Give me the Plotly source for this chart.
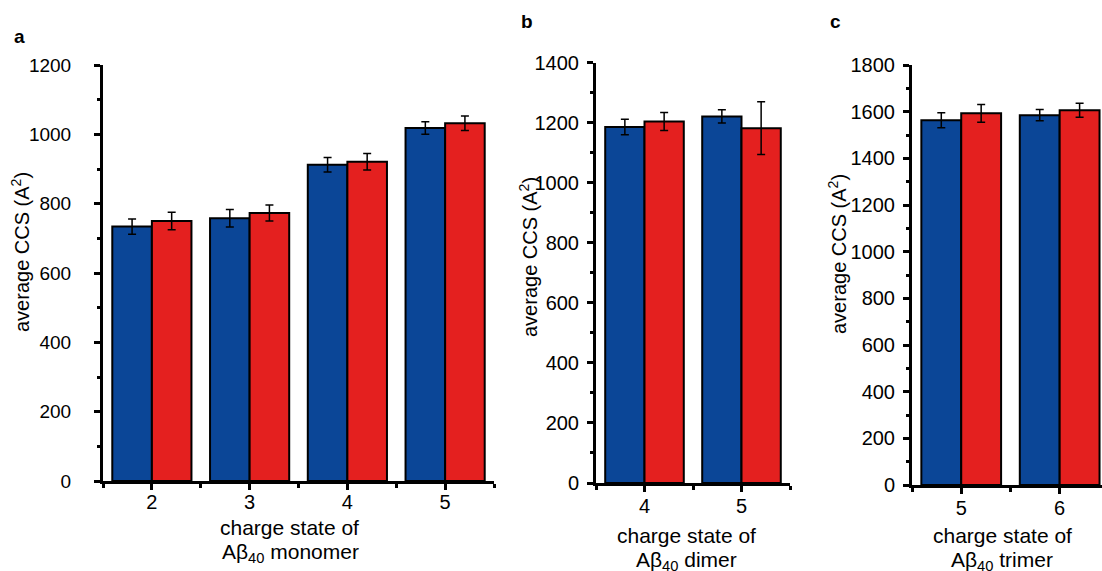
import plotly.graph_objects as go

# ---- data ----
cats_a = [2, 3, 4, 5]
blue_a = [734, 758, 912, 1018]
blue_a_err = [22, 25, 21, 18]
red_a = [750, 773, 921, 1032]
red_a_err = [25, 23, 24, 21]

cats_b = [4, 5]
blue_b = [1186, 1221]
blue_b_err = [26, 22]
red_b = [1204, 1182]
red_b_err = [30, 88]

cats_c = [5, 6]
blue_c = [1563, 1585]
blue_c_err = [32, 24]
red_c = [1593, 1606]
red_c_err = [38, 30]

BLUE = "#0b4697"
RED = "#e4201f"
FONT = "Arial, Liberation Sans, sans-serif"
W, H = 1102, 571

fig = go.Figure()

def add_pair(cats, bv, be, rv, re, xa, ya):
    for vals, errs, col in ((bv, be, BLUE), (rv, re, RED)):
        fig.add_trace(go.Bar(
            x=cats, y=vals, xaxis=xa, yaxis=ya,
            marker=dict(color=col, line=dict(color="black", width=2)),
            error_y=dict(type="data", array=errs, color="black", thickness=1.5, width=4),
            showlegend=False,
        ))

add_pair(cats_a, blue_a, blue_a_err, red_a, red_a_err, "x", "y")
add_pair(cats_b, blue_b, blue_b_err, red_b, red_b_err, "x2", "y2")
add_pair(cats_c, blue_c, blue_c_err, red_c, red_c_err, "x3", "y3")

def px_x(p):
    return p / W

def px_y(p):
    return (H - p) / H

def xaxis(dom, rng, tv, anchor, standoff):
    return dict(
        domain=[px_x(dom[0]), px_x(dom[1])], range=rng, anchor=anchor,
        tickvals=tv, ticktext=[str(v) for v in tv],
        showline=True, linecolor="black", linewidth=3,
        ticks="outside", ticklen=6, tickwidth=3, tickcolor="black",
        minor=dict(ticks="outside", tick0=0.5, dtick=1, ticklen=4, tickwidth=3, tickcolor="black"),
        showgrid=False, zeroline=False, automargin=False,
        tickfont=dict(family=FONT, size=20, color="black"),
        ticklabelstandoff=standoff, fixedrange=True,
    )

def yaxis(dom, rng, dt, anchor, standoff, fsize):
    return dict(
        domain=[px_y(dom[1]), px_y(dom[0])], range=rng, anchor=anchor,
        dtick=dt, showline=True, linecolor="black", linewidth=3,
        ticks="outside", ticklen=6, tickwidth=3, tickcolor="black",
        minor=dict(ticks="outside", dtick=dt / 2, ticklen=3, tickwidth=3, tickcolor="black"),
        showgrid=False, zeroline=False, automargin=False,
        tickfont=dict(family=FONT, size=fsize, color="black"),
        ticklabelstandoff=standoff, fixedrange=True,
    )

fig.update_layout(
    width=W, height=H,
    margin=dict(l=0, r=0, t=0, b=0, autoexpand=False),
    paper_bgcolor="white", plot_bgcolor="white",
    barmode="group", bargap=0.19, bargroupgap=0,
    font=dict(family=FONT, color="black"),
    xaxis=xaxis([103, 494], [1.5, 5.5], cats_a, "y", -5),
    yaxis=yaxis([65, 481], [0, 1200], 200, "x", 19, 19),
    xaxis2=xaxis([596, 790], [3.5, 5.5], cats_b, "y2", -3),
    yaxis2=yaxis([62.7, 483], [0, 1400], 200, "x2", 4, 20),
    xaxis3=xaxis([912, 1102], [4.5, 6.43], cats_c, "y3", -3),
    yaxis3=yaxis([65, 485], [0, 1800], 200, "x3", 4, 20),
)

def ann(text, x, y, size=20, angle=0, bold=False):
    if bold:
        text = "<b>" + text + "</b>"
    fig.add_annotation(text=text, x=px_x(x), y=px_y(y), xref="paper", yref="paper",
                       showarrow=False, textangle=angle, xanchor="center", yanchor="middle",
                       font=dict(family=FONT, size=size, color="black"))

# panel letters
ann("a", 19, 36, size=19, bold=True)
ann("b", 527, 22, size=19, bold=True)
ann("c", 835, 22, size=19, bold=True)

# y titles
ytitle = "average CCS (A<sup>2</sup>)"
ann(ytitle, 20, 252, size=20, angle=-90)
ann(ytitle, 528, 257, size=20, angle=-90)
ann(ytitle, 837, 254, size=20, angle=-90)

# x titles
ann("charge state of", 289, 527, size=21)
ann("Aβ<sub>40</sub> monomer", 290, 553, size=21)
ann("charge state of", 686, 535, size=21)
ann("Aβ<sub>40</sub> dimer", 686, 561, size=21)
ann("charge state of", 1002, 535, size=21)
ann("Aβ<sub>40</sub> trimer", 1002, 561, size=21)

fig.write_html("out.html", config={"displayModeBar": False},
               post_script="document.body.style.margin='0';document.body.style.overflow='hidden';")
